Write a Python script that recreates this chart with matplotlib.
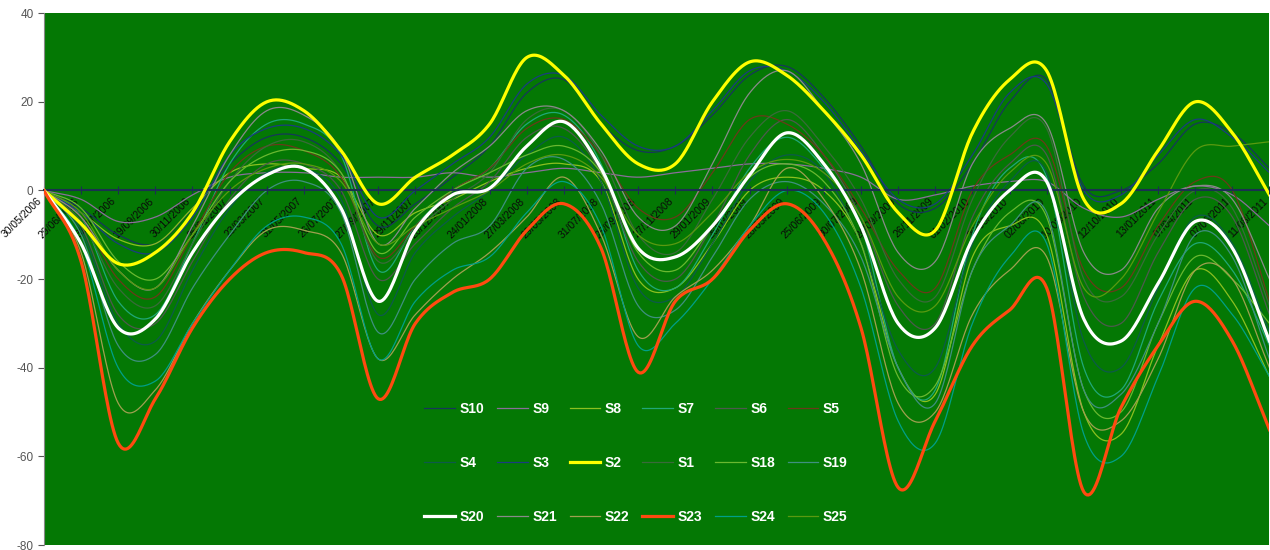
import numpy as np
import matplotlib
matplotlib.use("Agg")
import matplotlib.pyplot as plt

plt.rcParams["font.family"] = ["Liberation Sans", "DejaVu Sans"]
plt.rcParams["axes.unicode_minus"] = False

dates = ["30/05/2006", "29/06/2006", "31/07/2006", "19/09/2006", "30/11/2006", "25/01/2007",
         "23/03/2007", "31/05/2007", "26/07/2007", "27/09/2007", "29/11/2007", "20/12/2007",
         "24/01/2008", "27/03/2008", "29/05/2008", "31/07/2008", "25/09/2008", "27/11/2008",
         "29/01/2009", "26/03/2009", "28/05/2009", "25/06/2009", "30/07/2009", "24/09/2009",
         "26/11/2009", "01/02/2010", "26/03/2010", "02/06/2010", "10/08/2010", "12/10/2010",
         "13/01/2011", "07/04/2011", "07/06/2011", "11/08/2011"]

S10 = [0, -4, -10, -12, -4, 6, 12, 12, 6, -8, -3, 3, 10, 22, 25, 15, 9, 10, 17, 26, 28, 21, 10, -3, -4, 6, 20, 25, 1, 0, 6, 15, 13, 5]
S9 = [0, -2, -7, -6, -1, 3, 4, 4, 3, 3, 3, 4, 3, 4, 5, 4, 3, 4, 5, 6, 6, 5, 3, -2, -1, 1, 2, 2, -4, -6, -2, 1, -1, -8]
S8 = [0, -5, -11, -12, -4, 4, 6, 5, 3, -10, -5, -2, 2, 5, 6, 2, -20, -22, -12, 0, 3, 0, -12, -40, -46, -15, -8, -10, -50, -55, -35, -18, -25, -42]
S7 = [0, -6, -25, -28, -12, 6, 15, 15, 8, -18, -8, 0, 5, 15, 17, 6, -18, -22, -10, 5, 12, 5, -8, -40, -45, -10, 5, 3, -40, -45, -25, -12, -18, -35]
S6 = [0, -8, -28, -30, -16, -2, 6, 6, 0, -20, -12, -4, 2, 12, 14, 4, -16, -20, -8, 8, 16, 8, -6, -26, -30, -6, 6, 8, -24, -30, -14, -2, -6, -28]
S5 = [0, -6, -20, -24, -10, 4, 10, 9, 3, -15, -8, 0, 5, 14, 16, 8, -4, -6, 4, 16, 15, 8, -4, -18, -22, 0, 8, 10, -18, -22, -8, 2, 0, -25]
S4 = [0, -9, -30, -34, -18, -4, 4, 5, -2, -28, -14, -6, 0, 8, 12, 2, -22, -24, -12, 2, 8, 4, -12, -36, -40, -12, 2, 4, -34, -40, -22, -6, -12, -32]
S3 = [0, -5, -12, -14, -6, 8, 14, 14, 8, -6, 0, 6, 12, 24, 26, 17, 10, 10, 18, 27, 27, 20, 9, -2, -3, 8, 22, 24, 0, -1, 8, 16, 12, 4]
S2 = [0, -7.5, -16.5, -14, -5, 11, 20, 18, 9, -3, 3, 8, 15, 30, 26, 15, 6, 6, 20, 29, 26, 18, 8, -5, -9, 13, 25, 27, -2, -3, 9, 20, 13, -1]
S1 = [0, -7, -22, -26, -12, 2, 10, 11, 4, -16, -9, -2, 4, 16, 18, 8, -10, -14, -2, 12, 18, 10, -2, -20, -24, -2, 12, 14, -20, -24, -10, 0, -4, -26]
S18 = [0, -4, -16, -20, -10, 2, 8, 9, 4, -14, -6, 0, 4, 8, 10, 4, -14, -18, -8, 3, 6, 2, -12, -42, -44, -18, -5, -6, -45, -50, -30, -15, -20, -30]
S19 = [0, -10, -35, -37, -22, -10, 0, 2, -5, -32, -20, -12, -8, 5, 7, -3, -26, -27, -15, -2, 2, -3, -15, -40, -48, -18, -8, -5, -45, -46, -30, -10, -15, -38]
S20 = [0, -12, -31, -29, -14, -3, 3.5, 5, -4, -25, -9, -1, 0.5, 10, 15.5, 5, -13, -15, -8, 3.5, 13, 6, -8, -30, -31, -11, 0, 2, -29, -34, -21, -7, -13, -34]
S21 = [0, -6, -18, -22, -8, 8, 18, 17, 9, -12, -4, 4, 10, 18, 18, 9, -6, -8, 6, 22, 27, 18, 6, -14, -16, 6, 14, 15, -14, -18, -4, 1, -2, -20]
S22 = [0, -14, -48, -45, -30, -18, -9, -9, -14, -38, -28, -20, -14, -6, 3, -10, -33, -24, -18, -8, 5, -2, -18, -48, -50, -28, -18, -15, -50, -52, -38, -18, -20, -40]
S23 = [0, -16, -57, -47, -31, -20, -14, -14, -19, -47, -30, -23, -20, -9, -3, -13, -41, -25, -20, -9, -3, -11, -31, -67, -52, -35, -27, -22, -68, -49, -35, -25, -34, -54]
S24 = [0, -12, -40, -43, -30, -18, -8, -6, -12, -38, -25, -18, -15, -5, 2, -8, -35, -30, -20, -8, 0, -5, -22, -52, -57, -30, -15, -12, -55, -60, -42, -22, -28, -42]
S25 = [0, -5, -18, -22, -10, 0, 5, 6, 2, -12, -8, -4, 0, 6, 8, 3, -10, -12, -5, 4, 7, 4, -6, -24, -26, -8, 4, 6, -22, -20, -5, 9, 10, 11]

names = ["S10", "S9", "S8", "S7", "S6", "S5", "S4", "S3", "S2", "S1", "S18", "S19",
         "S20", "S21", "S22", "S23", "S24", "S25"]
series = [S10, S9, S8, S7, S6, S5, S4, S3, S2, S1, S18, S19, S20, S21, S22, S23, S24, S25]
colors = ["#16375a", "#8a6f9a", "#8cc020", "#20a878", "#4d5a4d", "#6a3a1a",
          "#0d5a4a", "#1a3c80", "#ffff00", "#3a6a3a", "#6ab830", "#3f9080",
          "#ffffff", "#8a8a8a", "#a0a050", "#ff4a10", "#00a088", "#5a9a10"]
thick = {"S2", "S20", "S23"}


def smooth(y, n=24):
    y = np.asarray(y, dtype=float)
    m = np.zeros_like(y)
    m[1:-1] = (y[2:] - y[:-2]) / 2.0
    m[0] = y[1] - y[0]
    m[-1] = y[-1] - y[-2]
    xs, ys = [], []
    for i in range(len(y) - 1):
        t = np.linspace(0, 1, n, endpoint=False)
        h00 = 2 * t**3 - 3 * t**2 + 1
        h10 = t**3 - 2 * t**2 + t
        h01 = -2 * t**3 + 3 * t**2
        h11 = t**3 - t**2
        ys.append(h00 * y[i] + h10 * m[i] + h01 * y[i + 1] + h11 * m[i + 1])
        xs.append(i + t)
    xs.append([len(y) - 1])
    ys.append([y[-1]])
    return np.concatenate(xs), np.concatenate(ys)


fig = plt.figure(figsize=(12.7, 5.5), dpi=100)
fig.patch.set_facecolor("white")
ax = fig.add_axes([0.0346, 0.009, 0.965, 0.967])
ax.set_facecolor("#047804")

handles = {}
for nm, vals, c in zip(names, series, colors):
    xs, ys = smooth(vals)
    if nm in thick:
        ln, = ax.plot(xs, ys, color=c, lw=2.3, zorder=5)
    else:
        ln, = ax.plot(xs, ys, color=c, lw=0.9, zorder=3)
    handles[nm] = ln

n = len(dates)
ax.set_xlim(0, n - 1)
ax.set_ylim(-80, 40)
ax.set_yticks(np.arange(-80, 41, 20))
ax.tick_params(axis="y", colors="#555555", labelsize=8.5, length=4, width=0.8)
ax.spines["left"].set_color("#888888")
ax.spines["right"].set_visible(False)
ax.spines["top"].set_visible(False)
ax.spines["bottom"].set_position(("data", 0))
ax.spines["bottom"].set_color("#1a3050")
ax.spines["bottom"].set_linewidth(1.5)
ax.spines["bottom"].set_zorder(4)
ax.set_xticks(np.arange(n))
ax.set_xticklabels(dates, rotation=45, ha="right", va="top", fontsize=7.5,
                   color="#0a0a0a", rotation_mode="default")
ax.tick_params(axis="x", direction="inout", length=6, width=0.8, color="#1a3050", pad=1)

order = []
for c in range(6):
    for r in range(3):
        order.append(names[r * 6 + c])
leg = ax.legend([handles[k] for k in order], order, ncol=6, loc="upper left",
                bbox_to_anchor=(0.3025, 0.288), frameon=False, fontsize=10,
                labelspacing=2.9, handlelength=2.2, handletextpad=0.33,
                columnspacing=0.93, borderpad=0.2)
for t in leg.get_texts():
    t.set_color("white")
    t.set_fontweight("bold")
leg.set_zorder(10)

fig.savefig("out.png", dpi=100, facecolor="white")
